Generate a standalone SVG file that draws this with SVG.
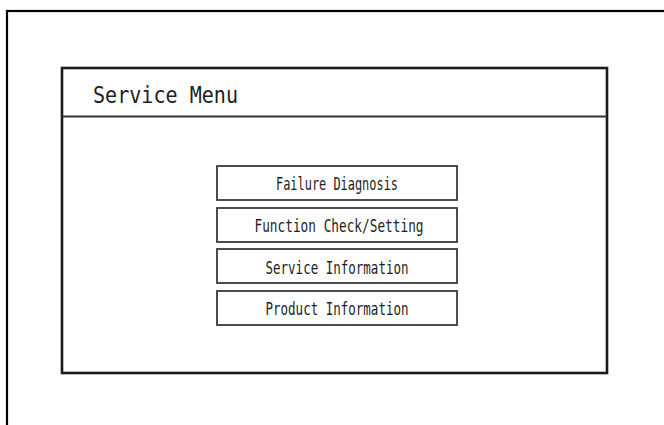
<svg xmlns="http://www.w3.org/2000/svg" width="664" height="425" viewBox="0 0 664 425">
<style>
  .frame{fill:none;stroke:#000;stroke-width:2.2}
  .panel{fill:#fff;stroke:#1a1a1a;stroke-width:2.6}
  .divider{stroke:#333;stroke-width:2}
  .btn{fill:#fff;stroke:#3a3a3a;stroke-width:1.8}
  .title{font-family:"DejaVu Sans Mono","Liberation Mono",monospace;font-size:23px;fill:#1e1e1e}
  .lbl{font-family:"DejaVu Sans Mono","Liberation Mono",monospace;font-size:17px;fill:#1e1e1e;text-anchor:middle}
</style>
<rect width="664" height="425" fill="#fff"/>
<rect class="frame" x="7" y="11" width="700" height="500"/>
<g id="panel">
  <rect class="panel" x="62" y="68" width="545" height="305"/>
  <line class="divider" x1="62" y1="116.5" x2="607" y2="116.5"/>
  <text class="title" x="93" y="103" textLength="145" lengthAdjust="spacingAndGlyphs">Service Menu</text>
</g>
<g id="btn-failure">
  <rect class="btn" x="217" y="166" width="240" height="34"/>
  <text class="lbl" x="337" y="190" textLength="122" lengthAdjust="spacingAndGlyphs">Failure Diagnosis</text>
</g>
<g id="btn-function">
  <rect class="btn" x="217" y="208" width="240" height="34"/>
  <text class="lbl" x="339" y="232" textLength="169" lengthAdjust="spacingAndGlyphs">Function Check/Setting</text>
</g>
<g id="btn-service">
  <rect class="btn" x="217" y="249" width="240" height="34"/>
  <text class="lbl" x="337" y="274" textLength="143" lengthAdjust="spacingAndGlyphs">Service Information</text>
</g>
<g id="btn-product">
  <rect class="btn" x="217" y="291" width="240" height="34"/>
  <text class="lbl" x="337" y="315" textLength="143" lengthAdjust="spacingAndGlyphs">Product Information</text>
</g>
<g id="connectors"></g>
</svg>
